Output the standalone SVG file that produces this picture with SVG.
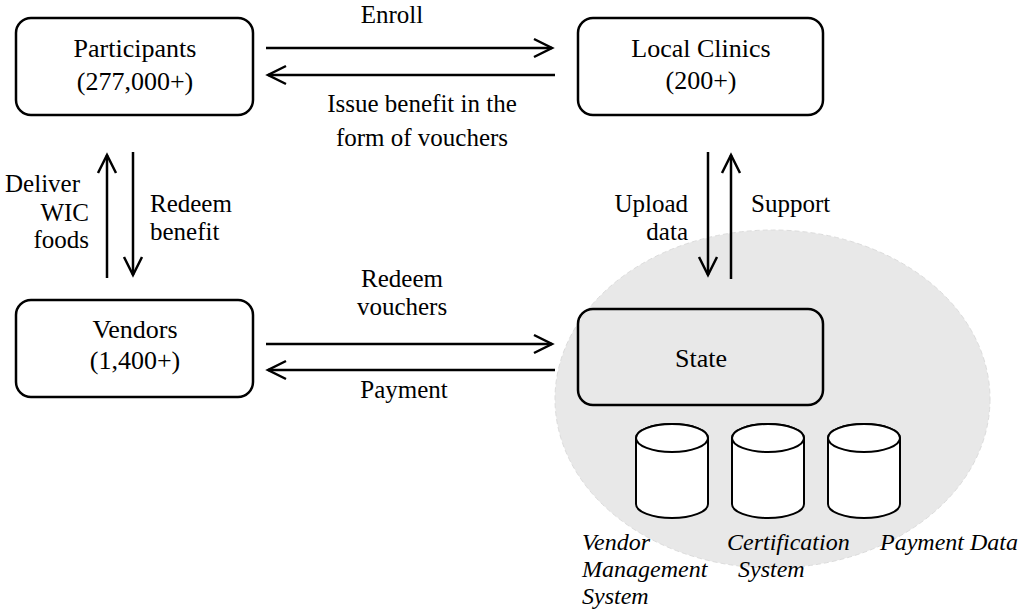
<svg xmlns="http://www.w3.org/2000/svg" width="1021" height="611" viewBox="0 0 1021 611">
<style>
.box{fill:none;stroke:#000;stroke-width:2.5}
.t{font-family:"Liberation Serif","Times New Roman",serif;font-size:26px;fill:#000;text-anchor:middle}
.l{font-family:"Liberation Serif","Times New Roman",serif;font-size:25px;fill:#000}
.i{font-family:"Liberation Serif","Times New Roman",serif;font-size:24px;font-style:italic;fill:#000}
.c{stroke:#000;stroke-width:2.5;fill:none}
.cyl{fill:#fff;stroke:#000;stroke-width:2}
</style>
<defs>
<marker id="arr" markerUnits="userSpaceOnUse" viewBox="0 0 24 24" markerWidth="24" markerHeight="24" refX="20" refY="12" orient="auto">
<path d="M2,3 L20,12 L2,21" fill="none" stroke="#000" stroke-width="2.5"/>
</marker>
</defs>
<rect width="1021" height="611" fill="#fff"/>
<g id="state-area">
<ellipse cx="772.5" cy="399" rx="217.5" ry="169" fill="#e8e8e8" stroke="#dcdcdc" stroke-width="1" stroke-dasharray="5 3"/>
</g>
<g id="connectors">
<line class="c" x1="266" y1="48" x2="552" y2="48" marker-end="url(#arr)"/>
<line class="c" x1="555" y1="75" x2="268" y2="75" marker-end="url(#arr)"/>
<line class="c" x1="266" y1="344" x2="552" y2="344" marker-end="url(#arr)"/>
<line class="c" x1="555" y1="370" x2="268" y2="370" marker-end="url(#arr)"/>
<line class="c" x1="107" y1="278" x2="107" y2="155" marker-end="url(#arr)"/>
<line class="c" x1="133" y1="152" x2="133" y2="275" marker-end="url(#arr)"/>
<line class="c" x1="708" y1="152" x2="708" y2="275" marker-end="url(#arr)"/>
<line class="c" x1="731" y1="279" x2="731" y2="155" marker-end="url(#arr)"/>
<text class="l" x="392" y="23" text-anchor="middle">Enroll</text>
<text class="l" x="422" y="112" text-anchor="middle">Issue benefit in the</text>
<text class="l" x="422" y="146" text-anchor="middle">form of vouchers</text>
<text class="l" x="80" y="192" text-anchor="end">Deliver</text>
<text class="l" x="89" y="221" text-anchor="end">WIC</text>
<text class="l" x="89" y="248" text-anchor="end">foods</text>
<text class="l" x="150" y="212">Redeem</text>
<text class="l" x="150" y="240">benefit</text>
<text class="l" x="688" y="212" text-anchor="end">Upload</text>
<text class="l" x="688" y="240" text-anchor="end">data</text>
<text class="l" x="751" y="212">Support</text>
<text class="l" x="402" y="287" text-anchor="middle">Redeem</text>
<text class="l" x="402" y="315" text-anchor="middle">vouchers</text>
<text class="l" x="404" y="398" text-anchor="middle">Payment</text>
</g>
<g id="participants">
<rect class="box" x="16" y="18" width="237" height="97" rx="15"/>
<text class="t" x="135" y="57">Participants</text>
<text class="t" x="135" y="90">(277,000+)</text>
</g>
<g id="local-clinics">
<rect class="box" x="578" y="18" width="245" height="97" rx="15"/>
<text class="t" x="701" y="57">Local Clinics</text>
<text class="t" x="701" y="89">(200+)</text>
</g>
<g id="vendors">
<rect class="box" x="16" y="300" width="237" height="97" rx="15"/>
<text class="t" x="135" y="338">Vendors</text>
<text class="t" x="135" y="369">(1,400+)</text>
</g>
<g id="state">
<rect class="box" x="578" y="309" width="245" height="96" rx="15"/>
<text class="t" x="701" y="367">State</text>
</g>
<g id="db-vendor">
<path class="cyl" d="M636,438 L636,504 A36,14 0 0 0 708,504 L708,438 A36,14 0 0 0 636,438 Z"/>
<ellipse class="cyl" cx="672" cy="438" rx="36" ry="14"/>
<text class="i" x="582" y="550">Vendor</text>
<text class="i" x="582" y="577">Management</text>
<text class="i" x="582" y="604">System</text>
</g>
<g id="db-certification">
<path class="cyl" d="M732,438 L732,504 A36,14 0 0 0 804,504 L804,438 A36,14 0 0 0 732,438 Z"/>
<ellipse class="cyl" cx="768" cy="438" rx="36" ry="14"/>
<text class="i" x="727" y="550">Certification</text>
<text class="i" x="738" y="577">System</text>
</g>
<g id="db-payment">
<path class="cyl" d="M828,438 L828,504 A36,14 0 0 0 900,504 L900,438 A36,14 0 0 0 828,438 Z"/>
<ellipse class="cyl" cx="864" cy="438" rx="36" ry="14"/>
<text class="i" x="880" y="550">Payment Data</text>
</g>
</svg>
